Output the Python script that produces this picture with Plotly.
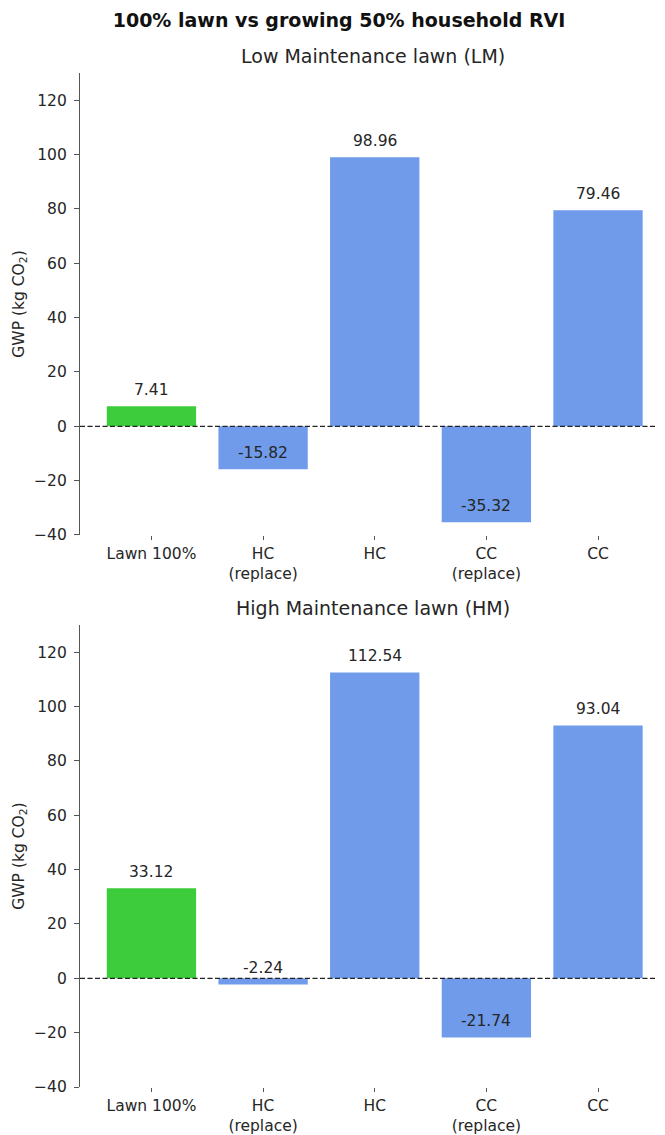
import plotly.graph_objects as go
from plotly.subplots import make_subplots

categories = ["Lawn 100%", "HC<br>(replace)", "HC", "CC<br>(replace)", "CC"]
lm_values = [7.41, -15.82, 98.96, -35.32, 79.46]
hm_values = [33.12, -2.24, 112.54, -21.74, 93.04]
bar_colors = ["#3ccc3c", "#6f9bea", "#6f9bea", "#6f9bea", "#6f9bea"]
panel_titles = ["Low Maintenance lawn (LM)", "High Maintenance lawn (HM)"]
main_title = "100% lawn vs growing 50% household RVI"
y_ticks = [-40, -20, 0, 20, 40, 60, 80, 100, 120]

FONT = "DejaVu Sans"
TXT = "#262626"

fig = make_subplots(rows=2, cols=1, vertical_spacing=0.0888)
x_pos = list(range(len(categories)))

for r, vals in enumerate([lm_values, hm_values], start=1):
    fig.add_trace(go.Bar(x=x_pos, y=vals, width=0.8, marker_color=bar_colors,
                         marker_line_width=0, showlegend=False, hoverinfo="skip"),
                  row=r, col=1)
    xr = "x" if r == 1 else "x2"
    yr = "y" if r == 1 else "y2"
    for xi, v in zip(x_pos, vals):
        fig.add_annotation(x=xi, y=v, xref=xr, yref=yr, text=f"{v:.2f}",
                           showarrow=False, yanchor="bottom", yshift=5,
                           font=dict(family=FONT, size=15.5, color=TXT))
    fig.add_shape(type="line", xref=f"{xr} domain", yref=yr, x0=0, x1=1, y0=0, y1=0,
                  line=dict(color="#222222", width=1.3, dash="5px,2.5px"))
    fig.add_annotation(xref=f"{xr} domain", yref=f"{yr} domain", x=0.5, y=1,
                       text=panel_titles[r - 1], showarrow=False, yanchor="bottom",
                       yshift=4, font=dict(family=FONT, size=19, color=TXT))
    fig.update_xaxes(range=[-0.64, 4.6], tickvals=x_pos, ticktext=categories,
                     showline=False, showgrid=False, zeroline=False,
                     ticks="outside", ticklen=4, tickcolor="#555555", automargin=False,
                     tickfont=dict(family=FONT, size=15.5, color=TXT), row=r, col=1)
    fig.update_yaxes(range=[-40, 130], tickvals=y_ticks, showline=True,
                     linecolor="#555555", linewidth=1.2, showgrid=False, zeroline=False,
                     ticks="outside", ticklen=5, tickcolor="#555555",
                     ticklabelstandoff=4, automargin=False,
                     tickfont=dict(family=FONT, size=15.5, color=TXT),
                     title=dict(text="GWP (kg CO<sub>2</sub>)", standoff=5,
                                font=dict(family=FONT, size=15.5, color=TXT)),
                     row=r, col=1)

fig.update_layout(
    width=665, height=1135,
    margin=dict(l=72, r=8, t=65, b=56),
    plot_bgcolor="white", paper_bgcolor="white",
    title=dict(text="<b>" + main_title + "</b>", x=331 / 665, xanchor="center",
               y=1 - 12 / 1135, yanchor="middle",
               font=dict(family=FONT, size=19, color="#111111")),
    bargap=0.2,
)

fig.write_html("out.html")
